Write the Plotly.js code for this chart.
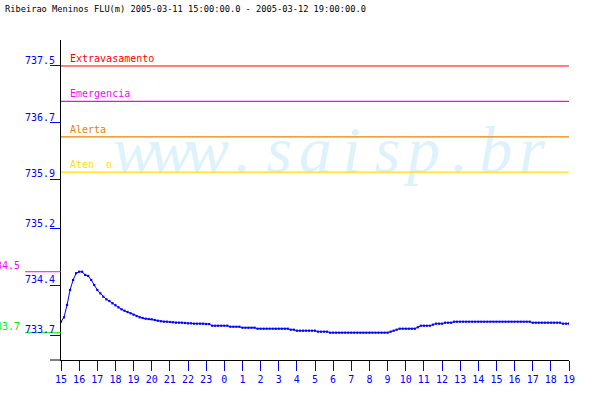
<!DOCTYPE html>
<html><head><meta charset="utf-8">
<script src="https://cdn.plot.ly/plotly-3.0.1.min.js"></script>
<style>html,body{margin:0;padding:0;background:#fff}#chart{width:600px;height:400px}</style>
</head><body><div id="chart"></div>
<script>
// ---- data ----
const titleText = "Ribeirao Meninos FLU(m) 2005-03-11 15:00:00.0 - 2005-03-12 19:00:00.0";
const startUTC = Date.UTC(2005, 2, 11, 15, 0);
const stepMinutes = 10;
const levels = [
  733.888, 733.950, 734.124, 734.336, 734.477, 734.572, 734.594, 734.594, 734.548, 734.534,
  734.477, 734.406, 734.336, 734.289, 734.241, 734.204, 734.180, 734.148, 734.120, 734.091,
  734.063, 734.043, 734.025, 734.007, 733.987, 733.968, 733.950, 733.940, 733.930, 733.926,
  733.922, 733.912, 733.902, 733.894, 733.888, 733.888, 733.884, 733.879, 733.874, 733.874,
  733.874, 733.870, 733.865, 733.865, 733.860, 733.860, 733.860, 733.860, 733.855, 733.855,
  733.831, 733.831, 733.831, 733.831, 733.831, 733.831,
  733.817, 733.817, 733.817, 733.817,
  733.803, 733.803, 733.803, 733.803, 733.803,
  733.789, 733.789, 733.789, 733.789, 733.789, 733.789, 733.789, 733.789, 733.789, 733.789, 733.789,
  733.775, 733.775,
  733.761, 733.761, 733.761, 733.761, 733.761, 733.761, 733.761,
  733.747, 733.747, 733.747, 733.747,
  733.733, 733.733, 733.733, 733.733, 733.733, 733.733, 733.733, 733.733, 733.733, 733.733,
  733.733, 733.733, 733.733, 733.733, 733.733, 733.733, 733.733, 733.733, 733.733, 733.733,
  733.747, 733.761, 733.775,
  733.789, 733.789, 733.789, 733.789, 733.789, 733.789,
  733.809,
  733.831, 733.831, 733.831, 733.831,
  733.846,
  733.860, 733.860, 733.860,
  733.874, 733.874, 733.874,
  733.888, 733.888, 733.888, 733.888, 733.888, 733.888, 733.888, 733.888, 733.888, 733.888,
  733.888, 733.888, 733.888, 733.888, 733.888, 733.888, 733.888, 733.888, 733.888, 733.888,
  733.888, 733.888, 733.888, 733.888, 733.888, 733.888,
  733.874, 733.874, 733.874, 733.874, 733.874, 733.874, 733.874, 733.874, 733.874, 733.874,
  733.860, 733.860, 733.860
];
const hourLabels = ["15","16","17","18","19","20","21","22","23","0","1","2","3","4","5","6","7","8","9","10","11","12","13","14","15","16","17","18","19"];
const yTickValues = [737.5, 736.7, 735.9, 735.2, 734.4, 733.7];
const thresholdNames = ["Extravasamento", "Emergencia", "Alerta", "Aten\u00a0\u00a0o"];
const thresholdValues = [737.5, 737.0, 736.5, 736.0];
const thresholdColors = ["#ff0000", "#ff00ff", "#f08000", "#ffe000"];
const watermarkText = "www.saisp.br";

// ---- layout geometry (pixels) ----
const W = 600, H = 400;
const L = 61, R = 31, T = 40, B = 40;
const PW = W - L - R, PH = H - T - B;
const px = v => (v - L) / PW;          // pixel x -> paper x
const py = v => (H - B - v) / PH;      // pixel y -> paper y
const FONT = "DejaVu Sans Mono, monospace";
const BLUE = "#0000ff";

const times = levels.map((_, i) => startUTC + i * stepMinutes * 60000);
const tickTimes = hourLabels.map((_, i) => startUTC + i * 3600000);
const maxV = Math.max(...levels), minV = Math.min(...levels);
const trunc1 = v => (Math.floor(v * 10 + 1e-9) / 10).toFixed(1);

const shapes = [];
const annotations = [];

// watermark: serif italic glyphs on a fixed pitch, below the traces
const wmFirstCenter = 135, wmPitch = 36.1, wmMid = 142;
watermarkText.split("").forEach((ch, k) => {
  const cx = wmFirstCenter + k * wmPitch;
  shapes.push({
    type: "rect", xref: "paper", yref: "paper", layer: "below",
    x0: px(cx - 18), x1: px(cx + 18), y0: py(wmMid + 40), y1: py(wmMid - 40),
    line: {width: 0}, fillcolor: "rgba(0,0,0,0)",
    label: {text: ch, textposition: "middle center",
      font: {family: "Liberation Serif, serif", size: 66, color: "#ddf2fb", style: "italic"}}
  });
});

// threshold lines + labels
thresholdValues.forEach((v, i) => {
  shapes.push({type: "line", xref: "paper", yref: "y", x0: 0, x1: 1, y0: v, y1: v,
    line: {color: thresholdColors[i], width: 1.2}});
  annotations.push({xref: "paper", yref: "y", x: px(69), y: v, xanchor: "left", yanchor: "bottom",
    text: thresholdNames[i], showarrow: false, borderpad: 0, yshift: 1,
    font: {family: FONT, size: 10, color: thresholdColors[i]}});
});

// y tick labels (above the tick line)
yTickValues.forEach(v => {
  annotations.push({xref: "paper", yref: "y", x: px(56), y: v, xanchor: "right", yanchor: "bottom",
    text: v.toFixed(1), showarrow: false, borderpad: 0, yshift: -1,
    font: {family: FONT, size: 10, color: BLUE}});
});

// max / min markers at left
[[maxV, "#ff00ff"], [minV, "#00f000"]].forEach(([v, c]) => {
  shapes.push({type: "line", xref: "paper", yref: "y", x0: px(25), x1: px(61), y0: v, y1: v,
    line: {color: c, width: 1}});
  annotations.push({xref: "paper", yref: "y", x: px(21), y: v, xanchor: "right", yanchor: "bottom",
    text: trunc1(v), showarrow: false, borderpad: 0, yshift: 0,
    font: {family: FONT, size: 10, color: c}});
});

// x axis line extension to the left of the y axis
shapes.push({type: "line", xref: "paper", yref: "paper", x0: px(50), x1: px(61), y0: 0, y1: 0,
  line: {color: "#000", width: 1}});

const trace = {
  x: times, y: levels, type: "scatter", mode: "lines+markers",
  line: {color: BLUE, width: 1},
  marker: {color: BLUE, size: 2.2, symbol: "square", line: {width: 0}},
  hoverinfo: "skip"
};

const layout = {
  width: W, height: H,
  margin: {l: L, r: R, t: T, b: B, pad: 0},
  paper_bgcolor: "#fff", plot_bgcolor: "rgba(0,0,0,0)",
  showlegend: false,
  title: {text: titleText, x: 5 / W, xanchor: "left", xref: "container",
    y: 1 - 6 / H, yanchor: "top", yref: "container",
    font: {family: FONT, size: 8.7, color: "#000"}},
  xaxis: {type: "date", range: [tickTimes[0], tickTimes[tickTimes.length - 1]],
    tickmode: "array", tickvals: tickTimes, ticktext: hourLabels,
    ticks: "outside", ticklen: 10, tickcolor: BLUE, tickwidth: 1,
    showline: true, linecolor: "#000", linewidth: 1,
    showgrid: false, zeroline: false,
    tickfont: {family: FONT, size: 10, color: BLUE}},
  yaxis: {range: [733.347, 737.867],
    tickmode: "array", tickvals: yTickValues, showticklabels: false,
    ticks: "outside", ticklen: 10, tickcolor: BLUE, tickwidth: 1,
    showline: true, linecolor: "#000", linewidth: 1,
    showgrid: false, zeroline: false},
  shapes: shapes,
  annotations: annotations
};

Plotly.newPlot("chart", [trace], layout, {displayModeBar: false, staticPlot: true});
</script>
</body></html>
